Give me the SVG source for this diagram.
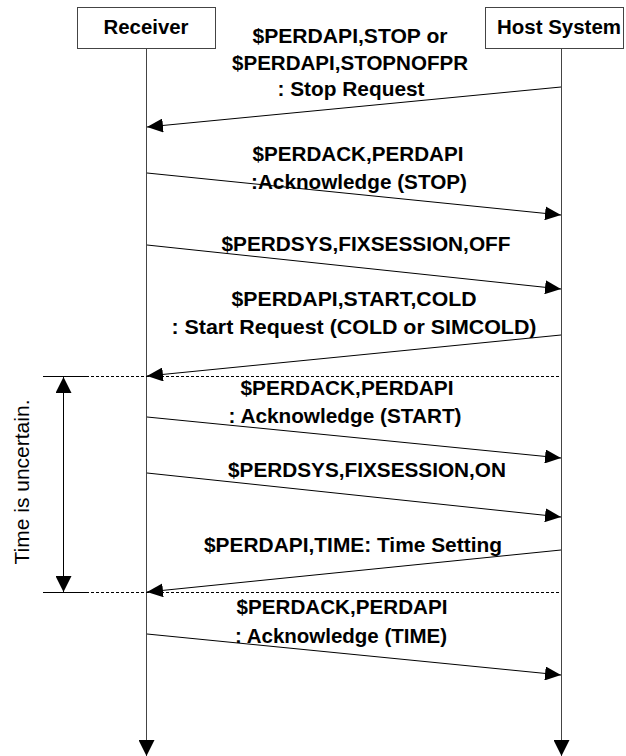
<svg xmlns="http://www.w3.org/2000/svg" width="626" height="756" viewBox="0 0 626 756">
<style>
.box{fill:#fff;stroke:#444;stroke-width:1}
.hdr{font-family:"Liberation Sans",Arial,sans-serif;font-size:20px;font-weight:bold;fill:#000}
.msg{font-family:"Liberation Sans",Arial,sans-serif;font-size:21px;font-weight:bold;fill:#000;text-anchor:middle}
.side{font-family:"Liberation Sans",Arial,sans-serif;font-size:21px;fill:#000;text-anchor:middle}
.life{stroke:#444;stroke-width:1;fill:none}
.arr{stroke:#000;stroke-width:1;fill:none;marker-end:url(#ah)}
.dash{stroke:#000;stroke-width:1;stroke-dasharray:3,2;fill:none}
.solid{stroke:#000;stroke-width:1;fill:none}
</style>
<defs>
<marker id="ah" viewBox="0 0 16 14" refX="16" refY="7" markerWidth="16" markerHeight="14" markerUnits="userSpaceOnUse" orient="auto">
<path d="M0,0 L16,7 L0,14 z" fill="#000"/>
</marker>
<marker id="ahs" viewBox="0 0 16 16" refX="16" refY="8" markerWidth="16" markerHeight="16" markerUnits="userSpaceOnUse" orient="auto-start-reverse">
<path d="M0,0 L16,8 L0,16 z" fill="#000"/>
</marker>
</defs>
<g id="receiver">
<rect class="box" x="77.5" y="7.5" width="138" height="41"/>
<text class="hdr" x="146" y="34" text-anchor="middle" textLength="85" lengthAdjust="spacingAndGlyphs">Receiver</text>
</g>
<g id="host">
<rect class="box" x="485.5" y="7.5" width="138" height="41"/>
<text class="hdr" x="559" y="34" text-anchor="middle" textLength="124" lengthAdjust="spacingAndGlyphs">Host System</text>
</g>
<g id="uncertain">
<text class="side" transform="translate(29,482) rotate(-90)">Time is uncertain.</text>
</g>
<g id="connectors">
<line class="life" x1="146.5" y1="49" x2="146.5" y2="756" marker-end="url(#ahs)"/>
<line class="life" x1="561.5" y1="49" x2="561.5" y2="756" marker-end="url(#ahs)"/>
<line class="solid" x1="43" y1="376.5" x2="86" y2="376.5"/>
<line class="dash" x1="86" y1="376.5" x2="561" y2="376.5"/>
<line class="solid" x1="43" y1="592.5" x2="86" y2="592.5"/>
<line class="dash" x1="86" y1="592.5" x2="561" y2="592.5"/>
<line class="solid" x1="63.5" y1="377" x2="63.5" y2="592" marker-start="url(#ahs)" marker-end="url(#ahs)"/>
<line class="arr" x1="561" y1="87" x2="147" y2="127"/>
<line class="arr" x1="147" y1="173" x2="561" y2="215"/>
<line class="arr" x1="147" y1="245" x2="561" y2="289"/>
<line class="arr" x1="561" y1="335" x2="147" y2="376"/>
<line class="arr" x1="147" y1="417" x2="561" y2="458"/>
<line class="arr" x1="147" y1="473" x2="561" y2="517"/>
<line class="arr" x1="561" y1="550" x2="147" y2="592"/>
<line class="arr" x1="147" y1="634" x2="561" y2="675"/>
</g>
<g id="labels">
<text class="msg" x="350" y="43" textLength="195" lengthAdjust="spacingAndGlyphs">$PERDAPI,STOP or</text>
<text class="msg" x="350" y="70" textLength="236" lengthAdjust="spacingAndGlyphs">$PERDAPI,STOPNOFPR</text>
<text class="msg" x="351" y="96" textLength="147" lengthAdjust="spacingAndGlyphs">: Stop Request</text>
<text class="msg" x="358" y="161" textLength="211" lengthAdjust="spacingAndGlyphs">$PERDACK,PERDAPI</text>
<text class="msg" x="359" y="189" textLength="216" lengthAdjust="spacingAndGlyphs">:Acknowledge (STOP)</text>
<text class="msg" x="366" y="251" textLength="289" lengthAdjust="spacingAndGlyphs">$PERDSYS,FIXSESSION,OFF</text>
<text class="msg" x="354" y="306" textLength="245" lengthAdjust="spacingAndGlyphs">$PERDAPI,START,COLD</text>
<text class="msg" x="354" y="334" textLength="365" lengthAdjust="spacingAndGlyphs">: Start Request (COLD or SIMCOLD)</text>
<text class="msg" x="347" y="395" textLength="213" lengthAdjust="spacingAndGlyphs">$PERDACK,PERDAPI</text>
<text class="msg" x="345" y="423" textLength="233" lengthAdjust="spacingAndGlyphs">: Acknowledge (START)</text>
<text class="msg" x="367" y="477" textLength="278" lengthAdjust="spacingAndGlyphs">$PERDSYS,FIXSESSION,ON</text>
<text class="msg" x="353" y="552" textLength="298" lengthAdjust="spacingAndGlyphs">$PERDAPI,TIME: Time Setting</text>
<text class="msg" x="342" y="614" textLength="211" lengthAdjust="spacingAndGlyphs">$PERDACK,PERDAPI</text>
<text class="msg" x="341" y="643" textLength="212" lengthAdjust="spacingAndGlyphs">: Acknowledge (TIME)</text>
</g>
</svg>
